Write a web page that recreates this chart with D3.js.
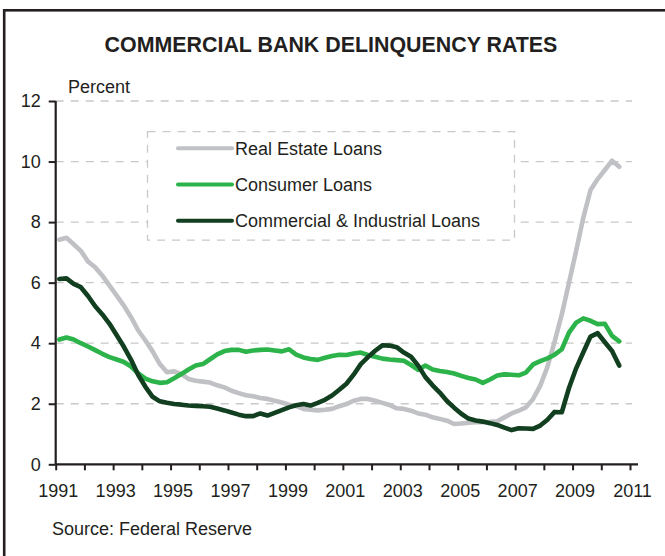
<!DOCTYPE html>
<html>
<head>
<meta charset="utf-8">
<script src="https://cdn.jsdelivr.net/npm/d3@7"></script>
<style>
  body { margin: 0; background: #fff; }
  text { font-family: "Liberation Sans", Arial, sans-serif; fill: #231f20; }
</style>
</head>
<body>
<div id="chart"></div>
<script>
// quarterly delinquency rates, 1991Q1 .. 2010Q3 (percent)
const startYear = 1991;
const seriesNames = ["Real Estate Loans", "Consumer Loans", "Commercial & Industrial Loans"];
const seriesColors = ["#c0c1c5", "#2cb34a", "#123f20"];

const realEstate = [
  7.42, 7.48, 7.27, 7.05, 6.70, 6.51, 6.23, 5.90, 5.57, 5.24, 4.86, 4.42,
  4.09, 3.73, 3.31, 3.04, 3.07, 2.98, 2.82, 2.76, 2.73, 2.70, 2.61, 2.54,
  2.43, 2.35, 2.28, 2.25, 2.19, 2.16, 2.10, 2.04, 1.97, 1.93, 1.83, 1.80,
  1.78, 1.80, 1.83, 1.92, 1.99, 2.10, 2.16, 2.16, 2.10, 2.03, 1.96, 1.85,
  1.83, 1.77, 1.68, 1.64, 1.55, 1.50, 1.44, 1.33, 1.35, 1.37, 1.39, 1.39,
  1.40, 1.42, 1.55, 1.68, 1.77, 1.88, 2.16, 2.60, 3.22, 4.05, 4.95, 6.00,
  7.05, 8.15, 9.06, 9.42, 9.72, 10.03, 9.83
];
const consumer = [
  4.12, 4.19, 4.12, 4.00, 3.89, 3.77, 3.65, 3.54, 3.46, 3.38, 3.23, 3.00,
  2.83, 2.74, 2.69, 2.71, 2.84, 2.98, 3.13, 3.26, 3.31, 3.47, 3.63, 3.74,
  3.78, 3.78, 3.72, 3.76, 3.78, 3.79, 3.76, 3.73, 3.80, 3.62, 3.53, 3.48,
  3.45, 3.52, 3.58, 3.62, 3.61, 3.66, 3.69, 3.61, 3.55, 3.49, 3.46, 3.44,
  3.42, 3.28, 3.12, 3.26, 3.13, 3.08, 3.05, 3.00, 2.92, 2.85, 2.80, 2.69,
  2.80, 2.93, 2.97, 2.96, 2.94, 3.03, 3.30, 3.41, 3.50, 3.62, 3.80, 4.35,
  4.68, 4.82, 4.74, 4.63, 4.64, 4.24, 4.06
];
const commercial = [
  6.12, 6.14, 5.96, 5.85, 5.56, 5.22, 4.95, 4.64, 4.26, 3.88, 3.45, 2.95,
  2.56, 2.23, 2.08, 2.03, 1.99, 1.97, 1.94, 1.93, 1.92, 1.90, 1.84, 1.78,
  1.71, 1.64, 1.59, 1.59, 1.68, 1.61, 1.70, 1.79, 1.88, 1.95, 1.99, 1.94,
  2.03, 2.13, 2.27, 2.46, 2.66, 2.96, 3.31, 3.54, 3.75, 3.93, 3.92, 3.87,
  3.69, 3.55, 3.26, 2.88, 2.61, 2.37, 2.09, 1.87, 1.67, 1.51, 1.45, 1.41,
  1.36, 1.30, 1.21, 1.13, 1.19, 1.18, 1.17, 1.28, 1.47, 1.73, 1.72, 2.52,
  3.17, 3.70, 4.22, 4.33, 4.03, 3.74, 3.26
];

const yTicks = [0, 2, 4, 6, 8, 10, 12];
const xLabelYears = [1991, 1993, 1995, 1997, 1999, 2001, 2003, 2005, 2007, 2009, 2011];

const width = 665, height = 556;

const svg = d3.select("#chart").append("svg")
  .attr("width", width)
  .attr("height", height);

// frame (only left and top edges fall inside the picture)
svg.append("rect")
  .attr("x", 4.2).attr("y", 10.3)
  .attr("width", 700).attr("height", 600)
  .attr("fill", "none")
  .attr("stroke", "#231f20")
  .attr("stroke-width", 2.6);

const x = d3.scaleLinear().domain([1991, 2011]).range([55.7, 630]);
const y = d3.scaleLinear().domain([0, 12]).range([464.3, 101]);

// dashed gridlines
svg.append("g")
  .selectAll("line")
  .data(yTicks.filter(d => d > 0))
  .enter().append("line")
  .attr("x1", x(1991)).attr("x2", 632)
  .attr("y1", d => y(d)).attr("y2", d => y(d))
  .attr("stroke", "#c9c9c9")
  .attr("stroke-width", 1.3)
  .attr("stroke-dasharray", "8,7");

// y axis
const yAxis = svg.append("g")
  .attr("transform", `translate(${x(1991)},0)`)
  .call(d3.axisLeft(y).tickValues(yTicks).tickSize(7).tickPadding(8).tickFormat(d3.format("d")));
yAxis.select(".domain").attr("stroke", "#231f20").attr("stroke-width", 2.2).attr("d", `M0,${y(12)}V${y(0)}`);
yAxis.selectAll(".tick line").attr("stroke", "#231f20").attr("stroke-width", 2);
yAxis.selectAll(".tick text").attr("font-size", 18).attr("font-family", "Liberation Sans, Arial, sans-serif").attr("fill", "#231f20");

// x axis: a tick every year, label every second year
const xAxis = svg.append("g")
  .attr("transform", `translate(0,${y(0)})`)
  .call(d3.axisBottom(x).tickValues(d3.range(1991, 2012)).tickSize(6).tickPadding(14)
    .tickFormat(d => xLabelYears.includes(d) ? d : ""));
xAxis.select(".domain").attr("stroke", "#231f20").attr("stroke-width", 2.2).attr("d", `M${x(1991)},0H638`);
xAxis.selectAll(".tick line").attr("stroke", "#231f20").attr("stroke-width", 2);
xAxis.selectAll(".tick text").attr("font-size", 18).attr("dx", 2).attr("font-family", "Liberation Sans, Arial, sans-serif").attr("fill", "#231f20");

// series lines, plotted at mid-quarter
const quarterX = i => startYear + (i + 0.5) / 4;
const line = d3.line()
  .x((d, i) => x(quarterX(i)))
  .y(d => y(d));

[realEstate, consumer, commercial].forEach((values, k) => {
  svg.append("path")
    .datum(values)
    .attr("d", line)
    .attr("fill", "none")
    .attr("stroke", seriesColors[k])
    .attr("stroke-width", 4.6)
    .attr("stroke-linejoin", "round")
    .attr("stroke-linecap", "round");
});

// legend
const legend = svg.append("g");
legend.append("rect")
  .attr("x", 147.5).attr("y", 131.7)
  .attr("width", 367).attr("height", 108.5)
  .attr("fill", "#fff")
  .attr("stroke", "#c9c9c9")
  .attr("stroke-width", 1.3)
  .attr("stroke-dasharray", "8,7");

const legendY = [148.3, 184.5, 220.7];
seriesNames.forEach((name, k) => {
  legend.append("line")
    .attr("x1", 178).attr("x2", 232)
    .attr("y1", legendY[k]).attr("y2", legendY[k])
    .attr("stroke", seriesColors[k])
    .attr("stroke-width", 4)
    .attr("stroke-linecap", "round");
  legend.append("text")
    .attr("x", 235).attr("y", legendY[k] + 6.6)
    .attr("font-size", 18)
    .text(name);
});

// titles
svg.append("text")
  .attr("x", 331).attr("y", 52)
  .attr("text-anchor", "middle")
  .attr("font-size", 21.4)
  .attr("font-weight", "bold")
  .text("COMMERCIAL BANK DELINQUENCY RATES");

svg.append("text")
  .attr("x", 68).attr("y", 93)
  .attr("font-size", 18)
  .text("Percent");

svg.append("text")
  .attr("x", 52).attr("y", 535)
  .attr("font-size", 18)
  .text("Source: Federal Reserve");
</script>
</body>
</html>
